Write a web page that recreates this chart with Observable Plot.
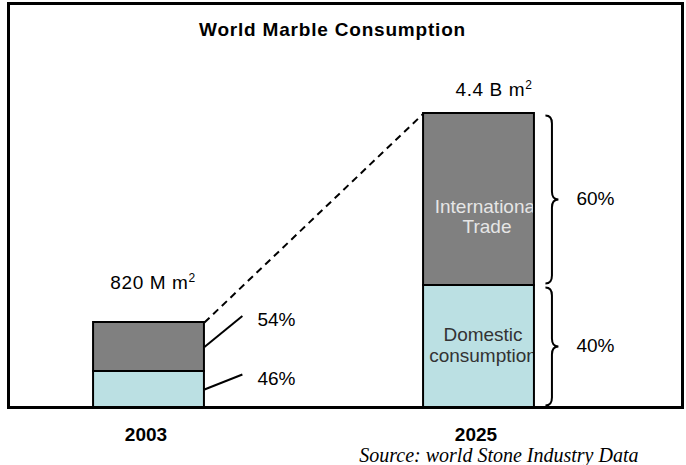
<!DOCTYPE html>
<html><head><meta charset="utf-8">
<script src="https://cdn.jsdelivr.net/npm/d3@7"></script>
<script src="https://cdn.jsdelivr.net/npm/@observablehq/plot@0.6"></script>
<style>
html,body{margin:0;padding:0;background:#fff;}
</style>
</head><body><div id="chart"></div>
<script>
// ---- data (bar heights are as drawn, not to scale) ----
const years = ["2003", "2025"];
const totalLabels = ["820 M m²", "4.4 B m²"];
const segmentNames = ["Domestic consumption", "International Trade"];
const domesticShare = ["46%", "40%"];
const tradeShare = ["54%", "60%"];
const domesticHeight = [0.36, 1.22];
const tradeHeight = [0.49, 1.72];
const insideLabels = ["Domestic\nconsumption", "International\nTrade"];
const titleText = "World Marble Consumption";
const sourceText = "Source: world Stone Industry Data";

// ---- layout / style ----
const HW = 0.168;           // half bar width (x units)
const FONT = "Liberation Sans, Arial, sans-serif";
const colors = ["#bbe0e3", "#808080"];

const rows = years.flatMap((yr, i) => [
  {i, year: yr, seg: 0, name: segmentNames[0], y1: 0, y2: domesticHeight[i], share: domesticShare[i], label: insideLabels[0]},
  {i, year: yr, seg: 1, name: segmentNames[1], y1: domesticHeight[i], y2: domesticHeight[i] + tradeHeight[i], share: tradeShare[i], label: insideLabels[1]}
]);
const tops = years.map((yr, i) => ({i, year: yr, total: domesticHeight[i] + tradeHeight[i], label: totalLabels[i]}));
const mid = d => (d.y1 + d.y2) / 2;
const calloutRise = [0.15, 0.31];

function braceCurve(context) {
  let pts = [];
  return {
    areaStart() {}, areaEnd() {},
    lineStart() { pts = []; },
    point(x, y) { pts.push([x, y]); },
    lineEnd() {
      const x0 = pts[0][0];
      const ya = Math.min(pts[0][1], pts[1][1]) + 2, yb = Math.max(pts[0][1], pts[1][1]) - 2;
      const ym = (ya + yb) / 2, w = 6.5, r = 8;
      context.moveTo(x0, ya);
      context.quadraticCurveTo(x0 + w, ya, x0 + w, ya + r);
      context.lineTo(x0 + w, ym - r);
      context.quadraticCurveTo(x0 + w, ym, x0 + 2 * w, ym);
      context.quadraticCurveTo(x0 + w, ym, x0 + w, ym + r);
      context.lineTo(x0 + w, yb - r);
      context.quadraticCurveTo(x0 + w, yb, x0, yb);
    }
  };
}

const r2003 = rows.filter(d => d.i === 0);
const r2025 = rows.filter(d => d.i === 1);

const chart = Plot.plot({
  width: 686, height: 465,
  marginLeft: 8, marginRight: 4, marginTop: 3, marginBottom: 58,
  style: {fontFamily: FONT, fontSize: "19px", color: "black", background: "white"},
  x: {domain: [0, 1], range: [148.5, 478.5], axis: null},
  y: {domain: [0, 3], range: [407, 107], axis: null},
  marks: [
    Plot.frame({stroke: "black", strokeWidth: 3}),
    Plot.text([titleText], {frameAnchor: "top", dx: -13, dy: 19, fontWeight: "bold", fontSize: 19}),
    // bars
    Plot.rect(rows, {x1: d => d.i - HW, x2: d => d.i + HW, y1: "y1", y2: "y2", fill: d => colors[d.seg], title: "name"}),
    // labels inside 2025 bar
    Plot.text(r2025.filter(d => d.seg === 1), {x: "i", y: mid, text: "label", dx: 8, dy: 17, fill: "#e6e6e6", lineHeight: 1.08, fontSize: 19}),
    Plot.text(r2025.filter(d => d.seg === 0), {x: "i", y: mid, text: "label", dx: 4, dy: -2, fill: "#333", lineHeight: 1.1, fontSize: 19}),
    Plot.rect(rows, {x1: d => d.i - HW, x2: d => d.i + HW, y1: "y1", y2: "y2", fill: "none", stroke: "black", strokeWidth: 2}),
    Plot.ruleY([0], {stroke: "black", strokeWidth: 3}),
    // growth dashed line
    Plot.link([tops], {x1: t => t[0].i + HW, y1: t => t[0].total, x2: t => t[1].i - HW, y2: t => t[1].total,
      stroke: "black", strokeWidth: 2, strokeDasharray: "7,5"}),
    // total labels
    Plot.text(tops.filter(d => d.i === 0), {x: "i", y: "total", text: "label", dx: 4, dy: -40}),
    Plot.text(tops.filter(d => d.i === 1), {x: "i", y: "total", text: "label", dx: 15, dy: -24}),
    // 2003 callouts
    Plot.link(r2003, {x1: d => d.i + HW, y1: mid, x2: d => d.i + HW + 0.115, y2: d => mid(d) + calloutRise[d.seg],
      stroke: "black", strokeWidth: 2}),
    Plot.text(r2003, {x: d => d.i + HW + 0.115, y: d => mid(d) + calloutRise[d.seg], text: "share", textAnchor: "start", dx: 15, dy: 4}),
    // 2025 braces
    Plot.link(r2025, {x1: d => d.i + HW, y1: "y1", x2: d => d.i + HW, y2: "y2", curve: braceCurve, dx: 11,
      stroke: "black", strokeWidth: 2}),
    Plot.text(r2025, {x: d => d.i + HW, y: mid, text: "share", textAnchor: "start", dx: 42, dy: -1}),
    // year labels
    Plot.text(years, {x: (d, i) => i, frameAnchor: "bottom", text: d => d, dx: -3, dy: 33, fontWeight: "bold", fontSize: 19}),
    // source
    Plot.text([sourceText], {frameAnchor: "bottom-right", textAnchor: "end", dx: -44, dy: 54,
      fontFamily: "Liberation Serif, Times New Roman, serif", fontStyle: "italic", fontSize: 20})
  ]
});

// ---- post-render touches using the chart's own scales ----
const svg = d3.select(chart);
const texts = svg.selectAll("text");
texts.filter(function () { return this.textContent === titleText; }).style("letter-spacing", "0.8px");
texts.filter(function () { return totalLabels.includes(this.textContent); }).each(function () {
  const s = this.textContent;
  const t = d3.select(this).style("letter-spacing", "0.6px");
  t.text(s.replace("²", ""));
  t.append("tspan").attr("font-size", "12px").attr("dy", "-7").text("2");
});
// clip the inside labels at the 2025 bar edges
const xs = chart.scale("x"), ys = chart.scale("y");
const xa = xs.apply(1 - HW), xb = xs.apply(1 + HW);
const yt = ys.apply(tops[1].total), y0 = ys.apply(0);
const defs = svg.append("defs");
defs.append("clipPath").attr("id", "bar2025clip").append("rect")
  .attr("x", xa).attr("y", yt).attr("width", xb - xa).attr("height", y0 - yt);
const inside = insideLabels.map(s => s.replace("\n", ""));
texts.filter(function () { return inside.includes(this.textContent); }).each(function () {
  const g = this.parentNode;
  const wrap = document.createElementNS("http://www.w3.org/2000/svg", "g");
  wrap.setAttribute("clip-path", "url(#bar2025clip)");
  g.parentNode.insertBefore(wrap, g);
  wrap.appendChild(g);
});
document.getElementById("chart").appendChild(chart);
</script>
</body></html>
